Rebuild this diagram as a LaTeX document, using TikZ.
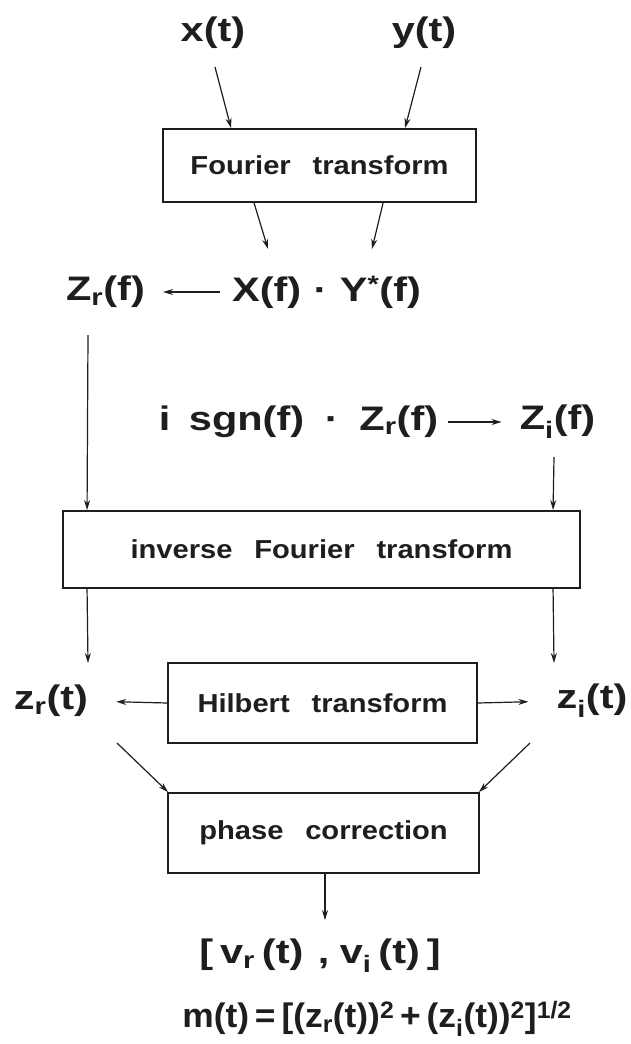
\documentclass[tikz,border=0pt]{standalone}
\usepackage{graphicx}
\usepackage{fontspec}
\setmainfont{Liberation Sans}
\usetikzlibrary{arrows.meta,calc}
\definecolor{ink}{HTML}{1E1E1E}
\newcommand{\lbl}[1]{\scalebox{1.22}[1]{#1}}
\newcommand{\bxl}[1]{\scalebox{1.12}[1]{#1}}
\newcommand{\gap}{\hspace{0.75em}}
\tikzset{
  big/.style={font=\fontsize{34}{40}\selectfont\bfseries, text=ink, inner sep=0pt},
  proc/.style={draw=ink, line width=1.9pt, font=\fontsize{26}{31}\selectfont\bfseries, text=ink, inner sep=0pt},
  arr/.style={draw=ink, line width=1.2pt, -{Stealth[length=10pt,width=6pt]}}
}
\begin{document}
\begin{tikzpicture}[x=1pt,y=-1pt]
\useasboundingbox[fill=white] (0,0) rectangle (630,1044);
% top inputs
\node[big] (xt) at (213,33) {\lbl{x(t)}};
\node[big] (yt) at (424,33) {\lbl{y(t)}};
\node[proc, minimum width=313pt, minimum height=73pt] (ft) at (319.5,165.5) {\bxl{Fourier\gap transform}};
\coordinate (xs) at (215,67);
\coordinate (ys) at (421,67);
\draw[arr] (xs) -- ($(ft.north west)+(69,0)$);
\draw[arr] (ys) -- ($(ft.north west)+(243,0)$);
% product row
\node[big] (zrf) at (105.5,292) {\lbl{Z\textsubscript{r}(f)}};
\node[big] (xy) at (326.5,292) {\lbl{X(f)\hspace{0.3em}·\hspace{0.3em}Y\textsuperscript{*}(f)}};
\coordinate (fe1) at (268,249);
\coordinate (fe2) at (372,249);
\draw[arr] ($(ft.south west)+(92,0)$) -- (fe1);
\draw[arr] ($(ft.south west)+(221,0)$) -- (fe2);
\draw[arr, shorten <=12pt, shorten >=18pt] (xy.west) -- (zrf.east);
% sgn row
\node[big] (isg) at (298.5,422) {\lbl{i\hspace{0.45em}sgn(f)\hspace{0.5em}·\hspace{0.5em}Z\textsubscript{r}(f)}};
\node[big] (zif) at (557.5,422) {\lbl{Z\textsubscript{i}(f)}};
\draw[arr, shorten <=10pt, shorten >=18pt] (isg.east) -- (zif.west);
% inverse transform
\node[proc, minimum width=517pt, minimum height=77pt] (ift) at (321.5,549.5) {\bxl{inverse\gap Fourier\gap transform}};
\coordinate (ls) at (88,335);
\coordinate (rs) at (554,457);
\draw[arr] (ls) -- ($(ift.north west)+(25,0)$);
\draw[arr] (rs) -- ($(ift.north west)+(491,0)$);
% hilbert row
\node[proc, minimum width=309pt, minimum height=80pt] (hil) at (322.5,703) {\bxl{Hilbert\gap transform}};
\node[big] (zrt) at (51,701) {\lbl{z\textsubscript{r}(t)}};
\node[big] (zit) at (592,701) {\lbl{z\textsubscript{i}(t)}};
\coordinate (le) at (88,663);
\coordinate (re) at (554,663);
\draw[arr] ($(ift.south west)+(25,0)$) -- (le);
\draw[arr] ($(ift.south west)+(491,0)$) -- (re);
\draw[arr, shorten >=28pt] (hil.west) -- (zrt.east);
\draw[arr, shorten >=28pt] (hil.east) -- (zit.west);
% phase correction
\node[proc, minimum width=311pt, minimum height=80pt] (ph) at (323.5,833) {\bxl{phase\gap correction}};
\coordinate (dl) at (117,743);
\coordinate (dr) at (530,743);
\draw[arr] (dl) -- ($(ph.north west)+(1,0)$);
\draw[arr] (dr) -- ($(ph.north east)+(-1,0)$);
\coordinate (oe) at (325,920);
\draw[arr] ($(ph.south)+(1.5,0)$) -- (oe);
% outputs
\node[big] (vv) at (320,956) {\lbl{[\,v\textsubscript{r}\,(t)\hspace{0.35em},\hspace{0.25em}v\textsubscript{i}\,(t)\,]}};
\node[big] (mt) at (377,1019) {\scalebox{1.04}[1]{m(t)\,=\,[(z\textsubscript{r}(t))\textsuperscript{2}\,+\,(z\textsubscript{i}(t))\textsuperscript{2}]\textsuperscript{1/2}}};
\end{tikzpicture}
\end{document}
